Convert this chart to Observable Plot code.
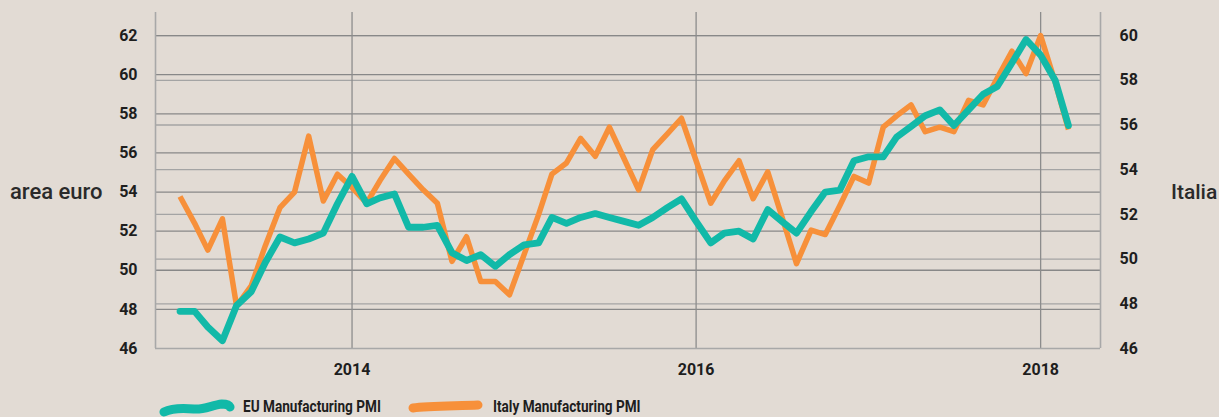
<!DOCTYPE html>
<html><head><meta charset="utf-8">
<script src="https://cdn.jsdelivr.net/npm/d3@7"></script>
<script src="https://cdn.jsdelivr.net/npm/@observablehq/plot@0.6"></script>
<style>
html,body{margin:0;padding:0;background:#e2dbd4;}
#wrap{position:relative;width:1219px;height:417px;overflow:hidden;font-family:Roboto,"Noto Sans",sans-serif;}
#chart{position:absolute;left:0;top:0;}
.side{position:absolute;font-weight:500;color:#2a2a2a;white-space:nowrap;}
.leg{position:absolute;top:398px;font-size:16px;font-weight:700;color:#1e1e1e;line-height:18px;white-space:nowrap;transform:scaleX(0.85);transform-origin:0 50%;}
.sw{position:absolute;}
</style></head>
<body><div id="wrap"><div id="chart"></div></div>
<script>
// ---- data ----
const startMonth = "2013-01";   // first monthly observation
const endMonth = "2018-03";     // last monthly observation
const euPMI = [47.9,47.9,47.1,46.4,48.2,48.9,50.4,51.7,51.4,51.6,51.9,53.4,54.8,53.4,53.7,53.9,52.2,52.2,52.3,50.9,50.5,50.8,50.2,50.8,51.3,51.4,52.7,52.4,52.7,52.9,52.7,52.5,52.3,52.7,53.2,53.65,52.5,51.4,51.9,52.0,51.6,53.1,52.5,51.9,53.0,54.0,54.1,55.6,55.8,55.8,56.8,57.35,57.9,58.2,57.4,58.2,59.0,59.4,60.6,61.8,61.0,59.7,57.4];
const italyPMI = [52.8,51.6,50.4,51.8,47.9,48.8,50.6,52.3,53.0,55.5,52.6,53.8,53.2,52.5,53.5,54.5,53.8,53.1,52.5,49.9,51.0,49.0,49.0,48.4,50.2,52.0,53.8,54.3,55.4,54.6,55.9,54.5,53.1,54.9,55.6,56.3,54.4,52.5,53.5,54.4,52.7,53.9,51.9,49.8,51.3,51.1,52.4,53.7,53.4,55.9,56.4,56.9,55.7,55.9,55.7,57.1,56.9,58.1,59.3,58.3,60.0,57.9,55.8];
const leftTicks = [46,48,50,52,54,56,58,60,62];
const rightTicks = [46,48,50,52,54,56,58,60];
const yearTicks = ["2014","2016","2018"];
const leftLabel = "area euro";
const rightLabel = "Italia";
const seriesNames = ["EU Manufacturing PMI","Italy Manufacturing PMI"];
const colors = ["#12b9a8","#f7903a"];

// ---- scales helpers ----
const parseM = d3.utcParse("%Y-%m");
const months = d3.utcMonths(parseM(startMonth), d3.utcMonth.offset(parseM(endMonth),1));
const leftMin = 46, leftMax = 62, rightMin = 46, rightMax = 60;
const toLeft = r => leftMin + (r - rightMin) * (leftMax - leftMin) / (rightMax - rightMin);
const toRight = l => rightMin + (l - leftMin) * (rightMax - rightMin) / (leftMax - leftMin);
const years = yearTicks.map(y => d3.utcParse("%Y")(y));
const xDomain = [new Date(Date.UTC(2012,10,10)), new Date(Date.UTC(2018,4,8))];
const yDomain = [46, 63.18];

const plot = Plot.plot({
  width: 1219, height: 390,
  marginLeft: 155, marginRight: 119, marginTop: 12, marginBottom: 42,
  style: {background: "transparent", fontFamily: "Roboto, 'Noto Sans', sans-serif", fontSize: "16px", fontWeight: 700, color: "#1e1e1e", overflow: "visible"},
  x: {type: "utc", domain: xDomain},
  y: {domain: yDomain},
  marks: [
    Plot.ruleY(rightTicks.filter(v => v > rightMin).map(toLeft), {stroke: "#a4a4a4", strokeWidth: 1.3}),
    Plot.ruleY(leftTicks.filter(v => v > leftMin), {stroke: "#888", strokeWidth: 1.3}),
    Plot.ruleX(years, {stroke: "#8c8c8c", strokeWidth: 1.3}),
    Plot.ruleX(xDomain, {stroke: "#a8a8a8", strokeWidth: 1.6, y1: yDomain[0], y2: yDomain[1]}),
    Plot.ruleY([leftMin], {stroke: "#a8a8a8", strokeWidth: 1.6}),
    Plot.line(months, {x: d => d, y: italyPMI.map(toLeft), stroke: colors[1], strokeWidth: 5.5, strokeLinejoin: "round", strokeLinecap: "butt"}),
    Plot.line(months, {x: d => d, y: euPMI, stroke: colors[0], strokeWidth: 6.8, strokeLinejoin: "round", strokeLinecap: "round"}),
    Plot.axisY({anchor: "left", ticks: leftTicks, tickSize: 0, tickPadding: 18, label: null, fill: "#1e1e1e"}),
    Plot.axisY({anchor: "right", ticks: rightTicks.map(toLeft), tickFormat: d => String(Math.round(toRight(d))), tickSize: 0, tickPadding: 19, label: null, fill: "#1e1e1e"}),
    Plot.axisX({ticks: years, tickFormat: d3.utcFormat("%Y"), tickSize: 0, tickPadding: 15, label: null, fill: "#1e1e1e"})
  ]
});
const wrap = document.getElementById("wrap");
document.getElementById("chart").appendChild(plot);

function addDiv(cls, text, left, top, size){
  const d = document.createElement("div");
  d.className = cls; d.textContent = text; d.style.left = left + "px";
  if (top != null) d.style.top = top + "px";
  if (size) { d.style.fontSize = size + "px"; d.style.lineHeight = size + "px"; }
  wrap.appendChild(d);
}
addDiv("side", leftLabel, 10, 181, 22);
addDiv("side", rightLabel, 1171, 182, 21);

// legend swatches (brush strokes)
const ns = "http://www.w3.org/2000/svg";
function swatch(left, top, pathD, color, w){
  const s = document.createElementNS(ns, "svg");
  s.setAttribute("width", 80); s.setAttribute("height", 22);
  s.setAttribute("class", "sw"); s.style.left = left + "px"; s.style.top = top + "px";
  const p = document.createElementNS(ns, "path");
  p.setAttribute("d", pathD); p.setAttribute("fill", "none"); p.setAttribute("stroke", color);
  p.setAttribute("stroke-width", w); p.setAttribute("stroke-linecap", "round");
  s.appendChild(p); wrap.appendChild(s);
}
swatch(158, 397, "M6,15 C14,11 26,11 36,12 C46,13 54,8 64,7 C68,7 71,8 72,10", colors[0], 9);
swatch(406, 397, "M7,11 C22,9 50,9 72,8", colors[1], 9);
addDiv("leg", seriesNames[0], 243);
addDiv("leg", seriesNames[1], 493);
</script>
</body></html>
